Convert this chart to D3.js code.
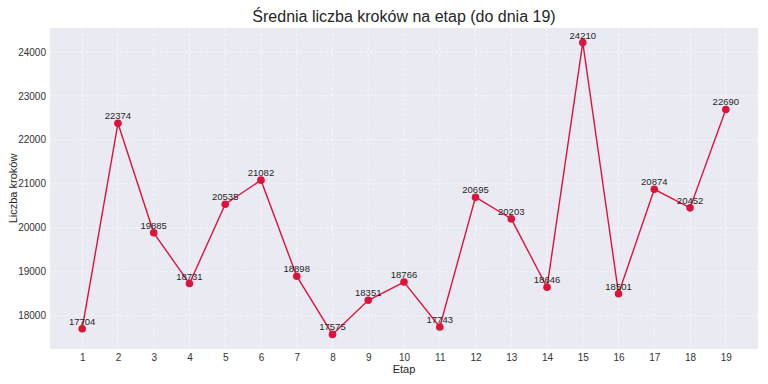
<!DOCTYPE html>
<html><head><meta charset="utf-8">
<script src="https://cdn.jsdelivr.net/npm/d3@7"></script>
<style>body{margin:0;background:#fff;} text{font-family:"Liberation Sans",Arial,sans-serif;}</style>
</head><body>
<svg id="c" width="768" height="384"></svg>
<script>
const stages = [1,2,3,4,5,6,7,8,9,10,11,12,13,14,15,16,17,18,19];
const steps = [17704,22374,19885,18731,20535,21082,18898,17575,18351,18766,17743,20695,20203,18646,24210,18501,20874,20452,22690];
const yTicks = [18000,19000,20000,21000,22000,23000,24000];
const title = "Średnia liczba kroków na etap (do dnia 19)";
const xLabel = "Etap";
const yLabel = "Liczba kroków";

const svg = d3.select("#c");
const m = {l:50, r:10, t:28, b:35};
const W = 768, H = 384;
const pw = W - m.l - m.r, ph = H - m.t - m.b;
const g = svg.append("g").attr("transform", `translate(${m.l},${m.t})`);

const x = d3.scaleLinear().domain([0.1, 19.9]).range([0, pw]);
const ymin = d3.min(steps), ymax = d3.max(steps), pad = (ymax - ymin) * 0.05;
const y = d3.scaleLinear().domain([ymin - pad, ymax + pad]).range([ph, 0]);

g.append("rect").attr("width", pw).attr("height", ph).attr("fill", "#EAEAF2");

// grid
g.selectAll(".gx").data(stages).enter().append("line")
  .attr("x1", d => x(d)).attr("x2", d => x(d)).attr("y1", 0).attr("y2", ph)
  .attr("stroke", "#fff").attr("stroke-width", 0.8).attr("stroke-dasharray", "3,2").attr("opacity", 0.8);
g.selectAll(".gy").data(yTicks).enter().append("line")
  .attr("y1", d => y(d)).attr("y2", d => y(d)).attr("x1", 0).attr("x2", pw)
  .attr("stroke", "#fff").attr("stroke-width", 0.8).attr("stroke-dasharray", "3,2").attr("opacity", 0.8);

// axes
const xa = g.append("g").attr("transform", `translate(0,${ph})`)
  .call(d3.axisBottom(x).tickValues(stages).tickSize(0).tickPadding(5).tickFormat(d3.format("d")));
const ya = g.append("g").call(d3.axisLeft(y).tickValues(yTicks).tickSize(0).tickPadding(4).tickFormat(d3.format("d")));
[xa, ya].forEach(a => {
  a.select(".domain").remove();
  a.selectAll("text").attr("fill", "#333").style("font-size", "10px").style("font-family", '"Liberation Sans",Arial,sans-serif');
});

// line
const line = d3.line().x((d, i) => x(stages[i])).y(d => y(d));
g.append("path").datum(steps).attr("d", line).attr("fill", "none").attr("stroke", "#DC143C").attr("stroke-width", 1.4);
g.selectAll(".pt").data(steps).enter().append("circle")
  .attr("cx", (d, i) => x(stages[i])).attr("cy", d => y(d)).attr("r", 3.8).attr("fill", "#DC143C");
g.selectAll(".lb").data(steps).enter().append("text")
  .attr("x", (d, i) => x(stages[i])).attr("y", d => y(d) - 4)
  .attr("text-anchor", "middle").attr("fill", "#262626").style("font-size", "9.5px").text(d => d);

// title & labels
svg.append("text").attr("x", m.l + pw / 2).attr("y", 22).attr("text-anchor", "middle")
  .attr("fill", "#262626").style("font-size", "16px").text(title);
svg.append("text").attr("x", m.l + pw / 2).attr("y", 373).attr("text-anchor", "middle")
  .attr("fill", "#262626").style("font-size", "11px").text(xLabel);
svg.append("text").attr("transform", `translate(17,${m.t + ph / 2}) rotate(-90)`).attr("text-anchor", "middle")
  .attr("fill", "#262626").style("font-size", "11px").text(yLabel);
</script>
</body></html>
